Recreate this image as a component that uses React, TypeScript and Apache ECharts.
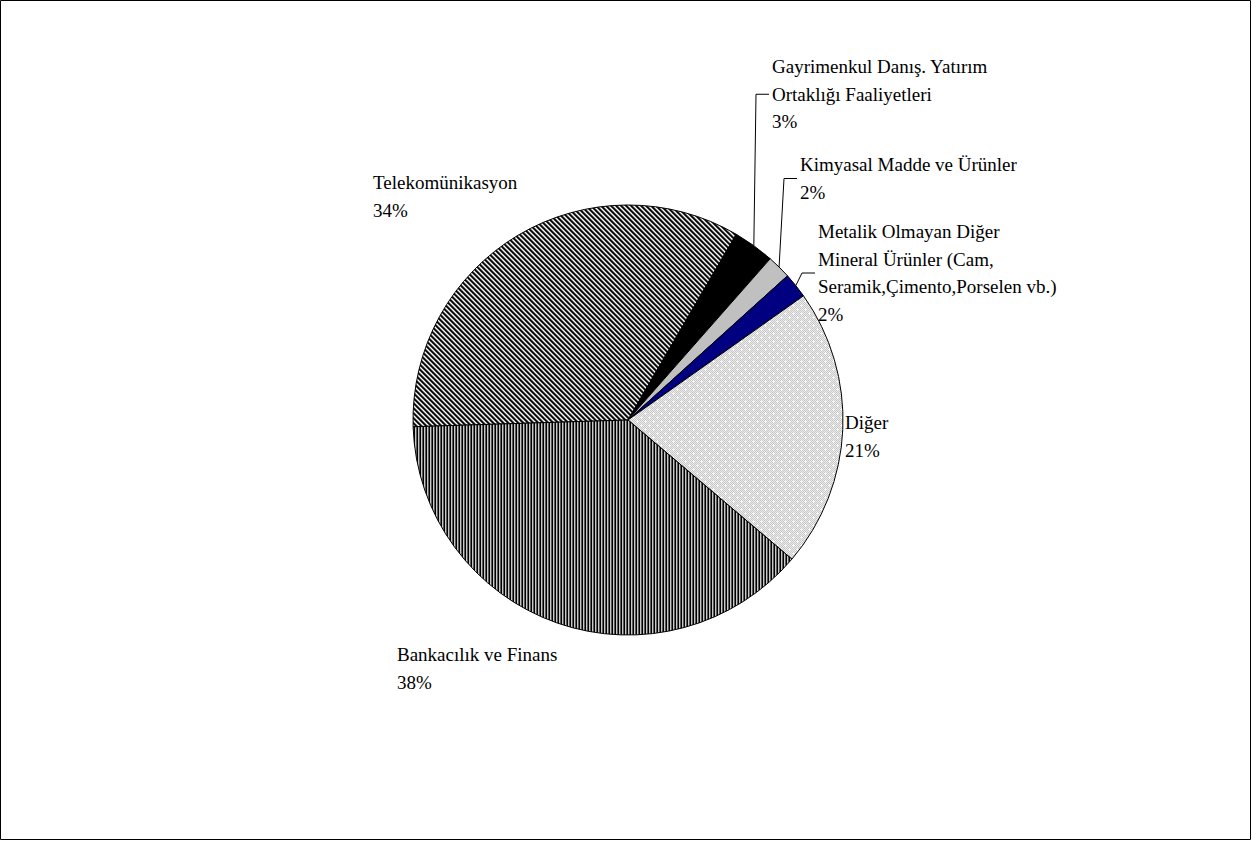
import React, { useEffect, useRef } from "react";
import * as echarts from "echarts";

// ---- Data ----
const categories = [
  "Telekomünikasyon",
  "Gayrimenkul Danış. Yatırım Ortaklığı Faaliyetleri",
  "Kimyasal Madde ve Ürünler",
  "Metalik Olmayan Diğer Mineral Ürünler (Cam, Seramik,Çimento,Porselen vb.)",
  "Diğer",
  "Bankacılık ve Finans",
];
const labelLines = [
  "Telekomünikasyon",
  "Gayrimenkul Danış. Yatırım\nOrtaklığı Faaliyetleri",
  "Kimyasal Madde ve Ürünler",
  "Metalik Olmayan Diğer\nMineral Ürünler (Cam,\nSeramik,Çimento,Porselen vb.)",
  "Diğer",
  "Bankacılık ve Finans",
];
const shares = [33.9, 3.1, 1.8, 1.9, 21.0, 38.3];

// ---- Layout constants (label top-left positions) ----
const labelPos: number[][] = [
  [373, 169],
  [772, 53],
  [800, 151],
  [818, 218],
  [845, 409],
  [397, 641],
];
const withLeader = [false, true, true, true, false, false];

function makePattern(w: number, h: number, draw: (ctx: CanvasRenderingContext2D) => void) {
  const c = document.createElement("canvas");
  c.width = w;
  c.height = h;
  const ctx = c.getContext("2d")!;
  draw(ctx);
  return { image: c, repeat: "repeat", imageWidth: w, imageHeight: h } as any;
}

function px(ctx: CanvasRenderingContext2D, x: number, y: number, color: string) {
  ctx.fillStyle = color;
  ctx.fillRect(x, y, 1, 1);
}

export default function App() {
  const ref = useRef<HTMLDivElement>(null);
  useEffect(() => {
    if (!ref.current) return;
    const chart = echarts.init(ref.current, undefined, { renderer: "svg" });

    const diag = makePattern(5, 5, (ctx) => {
      const cols = ["#000000", "#1e1e1e", "#9a9a9a", "#ffffff", "#6a6a6a"];
      for (let y = 0; y < 5; y++)
        for (let x = 0; x < 5; x++) px(ctx, x, y, cols[(((x - y) % 5) + 5) % 5]);
    });
    const vert = makePattern(3, 1, (ctx) => {
      const cols = ["#000000", "#c8c8c8", "#5a5a5a"];
      for (let x = 0; x < 3; x++) px(ctx, x, 0, cols[x]);
    });
    const dots = makePattern(8, 8, (ctx) => {
      for (let y = 0; y < 8; y++)
        for (let x = 0; x < 8; x++) px(ctx, x, y, (x + y) % 2 === 0 ? "#c8c8c8" : "#ececec");
      [[1, 1], [5, 5]].forEach(([x, y]) => {
        px(ctx, x, y, "#ffffff");
        px(ctx, x - 1, y, "#f8f8f8");
        px(ctx, x + 1, y, "#f8f8f8");
        px(ctx, x, y - 1, "#f8f8f8");
        px(ctx, x, y + 1, "#f8f8f8");
      });
    });

    const fills: any[] = [diag, "#000000", "#c0c0c0", "#000080", dots, vert];
    const fontFamily = "'Liberation Serif', 'Times New Roman', serif";

    const data = categories.map((name, i) => ({
      name,
      value: shares[i],
      itemStyle: { color: fills[i] },
      labelLine: { show: withLeader[i] },
    }));

    chart.setOption({
      animation: false,
      backgroundColor: "#ffffff",
      graphic: [
        {
          type: "rect",
          shape: { x: 0.5, y: 0.5, width: 1250, height: 839 },
          style: { fill: "none", stroke: "#000", lineWidth: 1 },
          silent: true,
        },
      ],
      series: [
        {
          type: "pie",
          center: [628, 420],
          radius: 215,
          startAngle: 181.8,
          clockwise: true,
          avoidLabelOverlap: false,
          silent: true,
          data,
          itemStyle: { borderColor: "#000", borderWidth: 1 },
          label: {
            show: true,
            position: "outside",
            color: "#000",
            fontSize: 19,
            lineHeight: 27.5,
            fontFamily,
            formatter: (p: any) => `${labelLines[p.dataIndex]}\n${Math.round(p.percent)}%`,
          },
          labelLine: {
            show: true,
            lineStyle: { color: "#000", width: 1 },
          },
          labelLayout: (params: any) => {
            const i = params.dataIndex;
            const [x, y] = labelPos[i];
            const res: any = { x, y, align: "left", verticalAlign: "top" };
            if (withLeader[i] && params.labelLinePoints) {
              const h = params.labelRect.height;
              const cy = y + h / 2;
              const start = params.labelLinePoints[0];
              res.labelLinePoints = [start, [x - 16, cy], [x - 3, cy]];
            }
            return res;
          },
        },
      ],
    });
    return () => chart.dispose();
  }, []);
  return (
    <div
      ref={ref}
      style={{ position: "absolute", left: 0, top: 0, width: 1252, height: 841 }}
    />
  );
}
